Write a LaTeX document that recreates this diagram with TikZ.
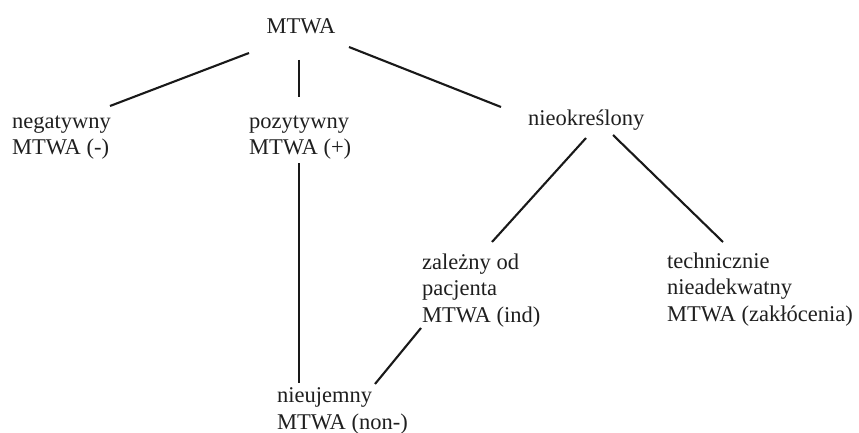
\documentclass[tikz,border=0pt]{standalone}
\usepackage{fontspec}
\setmainfont{Liberation Serif}
\usetikzlibrary{calc}
\begin{document}
\begin{tikzpicture}[x=1pt,y=-1pt,
  lbl/.style={inner sep=0pt,align=left,anchor=base west,
    font=\fontsize{22.5}{26.5}\selectfont,text=black!88},
  conn/.style={line width=2.1pt,black!90}]
\useasboundingbox (0,0) rectangle (859,433);
% base anchors = baseline of the last line
\node[lbl,anchor=base] (mtwa) at (301,34) {MTWA};
\node[lbl] (neg) at (12,154.5) {negatywny\\MTWA (-)};
\node[lbl] (poz) at (249,154.5) {pozytywny\\MTWA (+)};
\node[lbl] (nieok) at (528,125) {nieokreślony};
\node[lbl] (zal) at (422,322) {zależny od\\pacjenta\\MTWA (ind)};
\node[lbl] (tech) at (667,321) {technicznie\\nieadekwatny\\MTWA (zakłócenia)};
\node[lbl] (nieuj) at (277,429) {nieujemny\\MTWA (non-)};
\draw[conn] ($(mtwa.base)+(-52,19)$) -- ($(neg.base west)+(98,-48.5)$);
\draw[conn] ($(mtwa.base)+(-2,26)$) -- ($(poz.base west)+(50,-57.5)$);
\draw[conn] ($(mtwa.base)+(48,13)$) -- ($(nieok.base west)+(-27,-18)$);
\draw[conn] ($(poz.base west)+(50,8.5)$) -- ($(nieuj.base west)+(22,-46)$);
\draw[conn] ($(nieok.base west)+(58,13)$) -- ($(zal.base west)+(70,-80)$);
\draw[conn] ($(nieok.base west)+(85,10)$) -- ($(tech.base west)+(56,-79)$);
\draw[conn] ($(zal.base west)+(-1,6)$) -- ($(nieuj.base west)+(98,-45)$);
\end{tikzpicture}
\end{document}
